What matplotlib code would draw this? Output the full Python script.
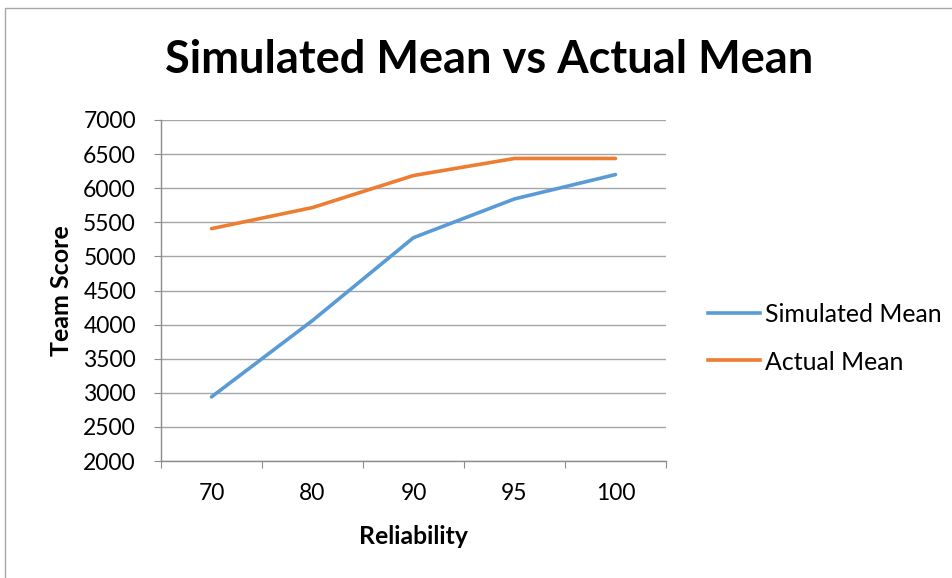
import matplotlib
matplotlib.use("Agg")
import matplotlib.pyplot as plt
from matplotlib.patches import Rectangle
from matplotlib.lines import Line2D

categories = ["70", "80", "90", "95", "100"]
simulated_mean = [2940, 4060, 5275, 5843, 6200]
actual_mean = [5407, 5716, 6186, 6436, 6436]
y_ticks = [2000, 2500, 3000, 3500, 4000, 4500, 5000, 5500, 6000, 6500, 7000]
series_names = ["Simulated Mean", "Actual Mean"]

plt.rcParams["font.family"] = ["Lato", "DejaVu Sans"]

W, H = 952, 578
fig = plt.figure(figsize=(W / 100, H / 100), dpi=100)
fig.patch.set_facecolor("white")

# chart-area border
fig.add_artist(Rectangle((5 / W, -0.1), 1.2, 1 - 8 / H + 0.1, transform=fig.transFigure,
                         fill=False, edgecolor="#a6a6a6", linewidth=1.0))

ax = fig.add_axes([161 / W, 1 - 461 / H, (666 - 161) / W, (461 - 120) / H])
x = list(range(len(categories)))
blue = "#5b9bd5"
orange = "#ed7d31"
colors = [blue, orange]
for values, name, c in zip([simulated_mean, actual_mean], series_names, colors):
    ax.plot(x, values, color=c, linewidth=2.6, solid_capstyle="round", label=name)

ax.set_xlim(-0.5, len(categories) - 0.5)
ax.set_ylim(2000, 7000)
ax.set_yticks(y_ticks)
ax.set_yticklabels([str(v) for v in y_ticks], fontsize=16.5)
ax.yaxis.grid(True, color="#a6a6a6", linewidth=1.0)
ax.set_axisbelow(True)

# category boundaries get tick marks, labels sit at centres
ax.set_xticks([i - 0.5 for i in range(len(categories) + 1)])
ax.set_xticklabels([])
ax.set_xticks(x, minor=True)
ax.set_xticklabels(categories, minor=True, fontsize=16.5)
ax.tick_params(axis="x", which="major", length=5, color="#8c8c8c", direction="out")
ax.tick_params(axis="x", which="minor", length=0, pad=16)
ax.tick_params(axis="y", length=5, color="#8c8c8c", direction="out", pad=13)

for side in ("top", "right"):
    ax.spines[side].set_visible(False)
for side in ("left", "bottom"):
    ax.spines[side].set_color("#8c8c8c")
    ax.spines[side].set_linewidth(1.0)

ax.set_xlabel("Reliability", fontsize=17.8, fontweight="bold", labelpad=15)
ax.set_ylabel("Team Score", fontsize=18, fontweight="bold", labelpad=7)

fig.text(489 / W, 1 - 60 / H, "Simulated Mean vs Actual Mean", ha="center", va="center",
         fontsize=32.5, fontweight="bold")

# legend entries: short line sample followed by the series name
for i, (name, c) in enumerate(zip(series_names, colors)):
    y = 1 - (313 + 47 * i) / H
    fig.add_artist(Line2D([708 / W, 760 / W], [y, y], transform=fig.transFigure,
                          color=c, linewidth=2.6))
    fig.text(765 / W, y, name, ha="left", va="center_baseline", fontsize=17.9)

fig.savefig("out.png", dpi=100, facecolor="white")
